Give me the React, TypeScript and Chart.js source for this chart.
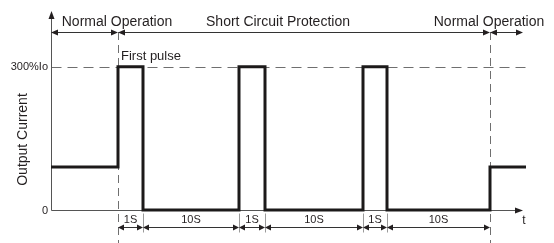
import { useEffect, useRef } from "react";
import { Chart, registerables } from "chart.js";

Chart.register(...registerables);

// Waveform: time positions (diagram units) and output current (% of Io)
const pulseTimes = [0, 67, 92, 188, 214, 312, 336, 439, 475];
const currentLevels = [90, 300, 0, 300, 0, 300, 0, 90, 90];

// Axes extents
const xAxisEnd = 472;
const yAxisEnd = 417;
const limitLevel = 300;

// Y tick labels
const yTickValues = [300, 0];
const yTickLabels = ["300%Io", "0"];

// Phase annotations (top row)
const phaseLabels = ["Normal Operation", "Short Circuit Protection", "Normal Operation"];
const phaseLabelX = [66, 227, 438];
const phaseBounds = [0, 67, 439, 472];

// Interval annotations (bottom row)
const intervalLabels = ["1S", "10S", "1S", "10S", "1S", "10S"];
const intervalBounds = [67, 92, 188, 214, 312, 336, 439];

const FONT = "'Liberation Sans', Arial, sans-serif";
const INK = "#231f20";

function arrowHead(ctx: CanvasRenderingContext2D, x: number, y: number, dir: "l" | "r" | "u", len = 7, half = 3) {
  ctx.beginPath();
  if (dir === "l") {
    ctx.moveTo(x, y);
    ctx.lineTo(x + len, y - half);
    ctx.lineTo(x + len, y + half);
  } else if (dir === "r") {
    ctx.moveTo(x, y);
    ctx.lineTo(x - len, y - half);
    ctx.lineTo(x - len, y + half);
  } else {
    ctx.moveTo(x, y);
    ctx.lineTo(x - half, y + len);
    ctx.lineTo(x + half, y + len);
  }
  ctx.closePath();
  ctx.fill();
}

function dimArrow(ctx: CanvasRenderingContext2D, x1: number, x2: number, y: number, len = 7, half = 3) {
  ctx.beginPath();
  ctx.moveTo(x1 + 1, y + 0.5);
  ctx.lineTo(x2 - 1, y + 0.5);
  ctx.stroke();
  arrowHead(ctx, x1, y + 0.5, "l", len, half);
  arrowHead(ctx, x2, y + 0.5, "r", len, half);
}

const diagramPlugin = {
  id: "diagram",
  beforeDatasetsDraw(chart: any) {
    const ctx: CanvasRenderingContext2D = chart.ctx;
    const xs = chart.scales.x;
    const ys = chart.scales.y;
    const px0 = Math.round(xs.getPixelForValue(0)) + 0.5;
    const py0 = Math.round(ys.getPixelForValue(0)) + 0.5;
    const topRow = 33;
    ctx.save();

    // horizontal dashed limit line
    const pyL = Math.round(ys.getPixelForValue(limitLevel)) + 0.5;
    ctx.strokeStyle = "#6f6f6f";
    ctx.lineWidth = 1;
    ctx.setLineDash([10, 6]);
    ctx.beginPath();
    ctx.moveTo(px0, pyL);
    ctx.lineTo(xs.getPixelForValue(pulseTimes[pulseTimes.length - 1]), pyL);
    ctx.stroke();

    // vertical dashed phase boundaries
    ctx.setLineDash([8, 5]);
    for (let i = 1; i < phaseBounds.length - 1; i++) {
      const px = Math.round(xs.getPixelForValue(phaseBounds[i])) + 0.5;
      ctx.beginPath();
      ctx.moveTo(px, topRow - 1);
      ctx.lineTo(px, chart.height);
      ctx.stroke();
    }
    ctx.setLineDash([]);

    // small extension ticks for interval bounds
    ctx.strokeStyle = "#9a9a9a";
    for (const b of intervalBounds) {
      if (phaseBounds.includes(b)) continue;
      const px = Math.round(xs.getPixelForValue(b)) + 0.5;
      ctx.beginPath();
      ctx.moveTo(px, py0 + 3);
      ctx.lineTo(px, py0 + 22);
      ctx.stroke();
    }

    // axes
    ctx.strokeStyle = "#555";
    ctx.fillStyle = INK;
    const yTop = ys.getPixelForValue(yAxisEnd);
    const xEnd = xs.getPixelForValue(xAxisEnd);
    ctx.beginPath();
    ctx.moveTo(px0, py0);
    ctx.lineTo(px0, yTop + 4);
    ctx.moveTo(px0, py0);
    ctx.lineTo(xEnd - 4, py0);
    ctx.stroke();
    arrowHead(ctx, px0, yTop, "u", 8, 3);
    arrowHead(ctx, xEnd, py0, "r", 8, 3);
    ctx.restore();
  },
  afterDatasetsDraw(chart: any) {
    const ctx: CanvasRenderingContext2D = chart.ctx;
    const xs = chart.scales.x;
    const ys = chart.scales.y;
    const px0 = xs.getPixelForValue(0);
    const py0 = ys.getPixelForValue(0);
    ctx.save();
    ctx.fillStyle = INK;
    ctx.strokeStyle = "#333";
    ctx.lineWidth = 1;

    // top phase arrows and labels
    const topRow = 32;
    for (let i = 0; i < phaseLabels.length; i++) {
      const a = xs.getPixelForValue(phaseBounds[i]);
      const b = xs.getPixelForValue(phaseBounds[i + 1]);
      dimArrow(ctx, a, b, topRow, 7, 3);
    }
    ctx.font = `14px ${FONT}`;
    ctx.textAlign = "center";
    ctx.textBaseline = "middle";
    phaseLabels.forEach((t, i) => {
      ctx.fillText(t, xs.getPixelForValue(phaseLabelX[i]), 22);
    });

    // bottom interval arrows and labels
    const botRow = Math.round(py0) + 17;
    ctx.font = `11px ${FONT}`;
    for (let i = 0; i < intervalLabels.length; i++) {
      const a = xs.getPixelForValue(intervalBounds[i]);
      const b = xs.getPixelForValue(intervalBounds[i + 1]);
      dimArrow(ctx, a, b, botRow, 6, 3);
      ctx.fillText(intervalLabels[i], (a + b) / 2, py0 + 10);
    }

    // t label
    ctx.font = `12px ${FONT}`;
    ctx.fillText("t", xs.getPixelForValue(xAxisEnd) + 1, py0 + 11);

    // First pulse
    ctx.font = `13px ${FONT}`;
    ctx.textAlign = "left";
    ctx.fillText("First pulse", xs.getPixelForValue(phaseBounds[1]) + 3, ys.getPixelForValue(limitLevel) - 10);

    // y tick labels
    ctx.font = `11px ${FONT}`;
    ctx.textAlign = "right";
    yTickValues.forEach((v, i) => {
      ctx.fillText(yTickLabels[i], px0 - 3, ys.getPixelForValue(v) + (v === 0 ? 1 : 0));
    });

    // y axis title
    ctx.font = `14px ${FONT}`;
    ctx.textAlign = "center";
    ctx.translate(23, (ys.getPixelForValue(0) + ys.getPixelForValue(yAxisEnd)) / 2 + 29);
    ctx.rotate(-Math.PI / 2);
    ctx.fillText("Output Current", 0, 0);
    ctx.restore();
  },
};

export default function App() {
  const ref = useRef<HTMLCanvasElement | null>(null);
  useEffect(() => {
    if (!ref.current) return;
    const chart = new Chart(ref.current, {
      type: "line",
      data: {
        datasets: [
          {
            data: pulseTimes.map((t, i) => ({ x: t, y: currentLevels[i] })),
            borderColor: "#1c1a1a",
            borderWidth: 3,
            stepped: "before",
            pointRadius: 0,
            fill: false,
            clip: false as any,
            borderJoinStyle: "miter",
          } as any,
        ],
      },
      options: {
        responsive: false,
        animation: false,
        layout: { padding: { left: 51, right: 28, top: 11, bottom: 33 } },
        plugins: { legend: { display: false }, tooltip: { enabled: false } },
        scales: {
          x: { type: "linear", min: 0, max: 475, display: false },
          y: { type: "linear", min: 0, max: yAxisEnd, display: false },
        },
      },
      plugins: [diagramPlugin],
    });
    return () => chart.destroy();
  }, []);
  return (
    <div style={{ position: "absolute", left: 0, top: 0, width: 554, height: 243, background: "#fff" }}>
      <canvas ref={ref} width={554} height={243} style={{ display: "block" }} />
    </div>
  );
}
